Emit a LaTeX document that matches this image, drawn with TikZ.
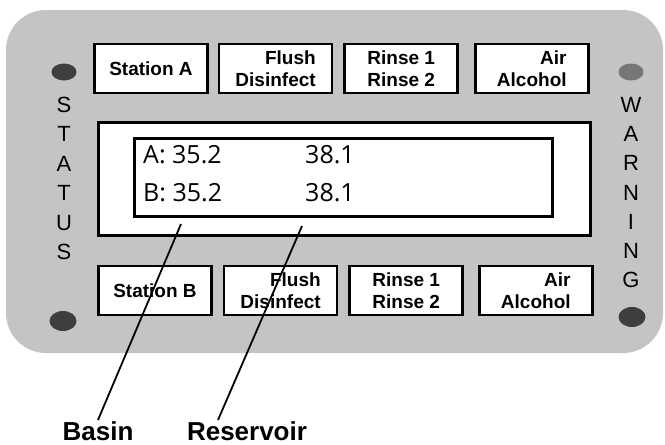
\documentclass[tikz,border=0pt]{standalone}
\usepackage{fontspec}
\setmainfont{Liberation Sans}
\newfontfamily\lcdfont{Open Sans}
\usetikzlibrary{positioning,shapes.geometric}
\definecolor{panelgray}{HTML}{C4C4C4}
\definecolor{leddark}{HTML}{3E3E3E}
\definecolor{ledlight}{HTML}{767676}
\tikzset{
  panel/.style={rectangle, rounded corners=40pt, fill=panelgray, draw=none},
  btn/.style={rectangle, draw=black, fill=white, line width=2.6pt, align=right, inner sep=0pt,
              minimum width=113pt, minimum height=49pt, font=\fontsize{19}{22}\selectfont\bfseries},
  screen/.style={rectangle, draw=black, fill=white, line width=3pt, inner sep=0pt},
  lcd/.style={anchor=west, inner sep=0pt, font=\fontsize{25}{30}\lcdfont},
  led/.style={ellipse, draw=none, fill=leddark, minimum width=25pt, minimum height=17pt, inner sep=0pt},
  side/.style={inner sep=0pt, font=\fontsize{22}{26}\selectfont},
  callout/.style={anchor=base, inner sep=1pt, font=\fontsize{26}{30}\selectfont\bfseries},
  leader/.style={draw=black, line width=1.8pt}
}
\begin{document}
\begin{tikzpicture}[x=1pt, y=-1pt]
  \useasboundingbox (0,0) rectangle (665,445);
  \fill[panelgray, rounded corners=40pt] (6,10) rectangle (663,353);

  \node[btn] (stA) at (151,68.5) {Station A};
  \node[btn, right=9pt of stA] (flushA) {Flush\\Disinfect};
  \node[btn, right=10pt of flushA] (rinseA) {Rinse 1\\Rinse 2};
  \node[btn, right=15pt of rinseA] (airA) {Air\\Alcohol};

  \node[btn] (stB) at (155,290.5) {Station B};
  \node[btn, right=10pt of stB] (flushB) {Flush\\Disinfect};
  \node[btn, right=10pt of flushB] (rinseB) {Rinse 1\\Rinse 2};
  \node[btn, right=14pt of rinseB] (airB) {Air\\Alcohol};

  \node[screen, minimum width=492pt, minimum height=113pt] (display) at (344.5,179) {};
  \node[screen, minimum width=418pt, minimum height=78pt] (readout) at (343.5,177.5) {};
  \node[lcd] (basinA) at (143,155) {A: 35.2};
  \node[lcd] (resA) at (305,155) {38.1};
  \node[lcd] (basinB) at (143,193) {B: 35.2};
  \node[lcd] (resB) at (305,193) {38.1};

  \node[led] (ledTL) at (64,72) {};
  \node[led, fill=ledlight] (ledTR) at (631,72) {};
  \node[led, minimum width=27pt, minimum height=20pt] (ledBL) at (63,321) {};
  \node[led, minimum width=27pt, minimum height=20pt] (ledBR) at (632,317) {};

  \foreach \l [count=\i] in {S,T,A,T,U,S}
    \node[side] (status\i) at (64,{105+29.4*(\i-1)}) {\l};
  \foreach \l [count=\i] in {W,A,R,N,I,N,G}
    \node[side] (warn\i) at (631,{105+29.2*(\i-1)}) {\l};

  \node[callout] (basin) at (98,440) {Basin};
  \node[callout] (reservoir) at (247,440) {Reservoir};
  \coordinate (basintip) at (181,224);
  \coordinate (restip) at (302,226);
  \draw[leader] (basintip) -- (basin.north);
  \draw[leader] (restip) -- ([xshift=-29pt]reservoir.north);
\end{tikzpicture}
\end{document}
